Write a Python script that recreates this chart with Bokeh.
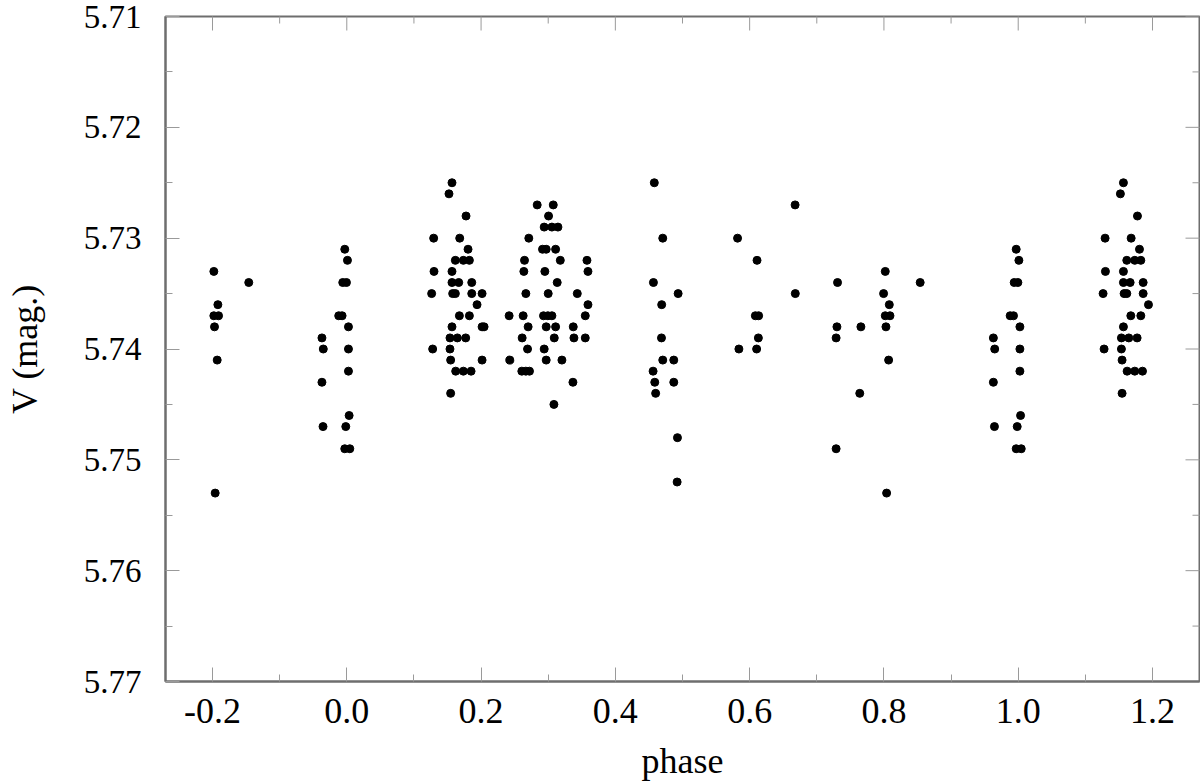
import numpy as np
from bokeh.plotting import figure
from bokeh.models import Range1d, FixedTicker, NumeralTickFormatter
from bokeh.embed import file_html
from bokeh.resources import INLINE

# ---- data: phase and V magnitude (base phases in [0,1)) ----
phase_c0 = [0.997, 0.001, 0.994, 0.9995, 0.988, 0.993, 0.0025, 0.963, 0.965, 0.0025,
            0.0025, 0.963, 0.0035, 0.9646, 0.9985, 0.997, 0.0045]
vmag_c0 = [5.731, 5.732, 5.734, 5.734, 5.737, 5.737, 5.738, 5.739, 5.740, 5.740,
           5.742, 5.743, 5.746, 5.747, 5.747, 5.749, 5.749]

phase_c1 = [0.1567, 0.1522, 0.1776, 0.1294, 0.1682, 0.1806, 0.1617, 0.1736, 0.1826, 0.1299,
            0.1567, 0.1567, 0.1667, 0.1861, 0.1264, 0.1577, 0.1617, 0.1861, 0.2015, 0.194,
            0.1677, 0.1826, 0.1567, 0.2015, 0.2045, 0.1537, 0.1647, 0.1771, 0.1279, 0.1537,
            0.1547, 0.2015, 0.1622, 0.1736, 0.1851, 0.1547]
vmag_c1 = [5.725, 5.726, 5.728, 5.730, 5.730, 5.731, 5.732, 5.732, 5.732, 5.733,
           5.733, 5.734, 5.734, 5.734, 5.735, 5.735, 5.735, 5.735, 5.735, 5.736,
           5.737, 5.737, 5.738, 5.738, 5.738, 5.739, 5.739, 5.739, 5.740, 5.740,
           5.741, 5.741, 5.742, 5.742, 5.742, 5.744]

phase_c2 = [0.2836, 0.3075, 0.3005, 0.294, 0.3055, 0.3145, 0.2711, 0.2915, 0.297, 0.311,
            0.2647, 0.318, 0.3577, 0.2637, 0.295, 0.3592, 0.3134, 0.2667, 0.300, 0.3433,
            0.3592, 0.2418, 0.2627, 0.293, 0.2995, 0.3055, 0.3552, 0.2701, 0.297, 0.311,
            0.3373, 0.2612, 0.309, 0.3383, 0.3552, 0.2692, 0.294, 0.2428, 0.297, 0.3204,
            0.2607, 0.2667, 0.2721, 0.3368, 0.3085]
vmag_c2 = [5.727, 5.727, 5.728, 5.729, 5.729, 5.729, 5.730, 5.731, 5.731, 5.731,
           5.732, 5.732, 5.732, 5.733, 5.733, 5.733, 5.734, 5.735, 5.735, 5.735,
           5.736, 5.737, 5.737, 5.737, 5.737, 5.737, 5.737, 5.738, 5.738, 5.738,
           5.738, 5.739, 5.739, 5.739, 5.739, 5.740, 5.740, 5.741, 5.741, 5.741,
           5.742, 5.742, 5.742, 5.743, 5.745]

phase_c3 = [0.458, 0.4706, 0.4567, 0.4935, 0.469, 0.4687, 0.4706, 0.487, 0.4562, 0.4587,
            0.487, 0.460, 0.4925, 0.492]
vmag_c3 = [5.725, 5.730, 5.734, 5.735, 5.736, 5.739, 5.741, 5.741, 5.742, 5.743,
           5.743, 5.744, 5.748, 5.752]

phase_c4 = [0.6677, 0.582, 0.611, 0.668, 0.6085, 0.6134, 0.613, 0.584, 0.6104]
vmag_c4 = [5.727, 5.730, 5.732, 5.735, 5.737, 5.737, 5.739, 5.740, 5.740]

phase_c5 = [0.7309, 0.730, 0.7657, 0.7288, 0.764, 0.7288]
vmag_c5 = [5.734, 5.738, 5.738, 5.739, 5.744, 5.749]

phase_c6 = [0.802, 0.7995, 0.808, 0.802, 0.809, 0.803, 0.807, 0.804, 0.854]
vmag_c6 = [5.733, 5.735, 5.736, 5.737, 5.737, 5.738, 5.741, 5.753, 5.734]

x_ticks = [-0.2, 0.0, 0.2, 0.4, 0.6, 0.8, 1.0, 1.2]
x_minor = [-0.1, 0.1, 0.3, 0.5, 0.7, 0.9, 1.1]
y_ticks = [5.71, 5.72, 5.73, 5.74, 5.75, 5.76, 5.77]
y_minor = [5.715, 5.725, 5.735, 5.745, 5.755, 5.765]

phase = np.array(phase_c0 + phase_c1 + phase_c2 + phase_c3 + phase_c4 + phase_c5 + phase_c6)
vmag = np.array(vmag_c0 + vmag_c1 + vmag_c2 + vmag_c3 + vmag_c4 + vmag_c5 + vmag_c6)

# phase folding: repeat points in the -0.2..0 and 1..1.2 intervals
lo = phase >= 0.8
hi = phase <= 0.2
x_all = np.concatenate([phase, phase[lo] - 1.0, phase[hi] + 1.0])
y_all = np.concatenate([vmag, vmag[lo], vmag[hi]])

FONT = "Liberation Serif"
FRAME = "#6e6e6e"
TICK = "#9a9a9a"

x_lo, x_hi = -0.27, 1.27
y_bottom, y_top = 5.77, 5.71

p = figure(frame_width=1034, frame_height=665,
           x_range=Range1d(x_lo, x_hi), y_range=Range1d(y_bottom, y_top),
           output_backend="svg", toolbar_location=None,
           min_border_left=165, min_border_right=1, min_border_top=16, min_border_bottom=10,
           background_fill_color="white", border_fill_color="white")
p.xgrid.visible = False
p.ygrid.visible = False
p.outline_line_color = FRAME
p.outline_line_width = 2
p.outline_line_alpha = 1.0

p.scatter(x_all, y_all, size=8, color="black", line_color="black")

# mirrored inward ticks on the top and right edges (dash markers clipped by the frame)
p.scatter(x_ticks, [y_top] * len(x_ticks), marker="dash", angle=np.pi / 2, size=28,
          line_color=TICK, line_width=1)
p.scatter(x_minor, [y_top] * len(x_minor), marker="dash", angle=np.pi / 2, size=14,
          line_color=TICK, line_width=1)
p.scatter([x_hi] * len(y_ticks), y_ticks, marker="dash", size=28,
          line_color=TICK, line_width=1)
p.scatter([x_hi] * len(y_minor), y_minor, marker="dash", size=14,
          line_color=TICK, line_width=1)

def style(ax, ticks, minor, font_size, fmt):
    ax.ticker = FixedTicker(ticks=ticks, minor_ticks=minor)
    ax.formatter = NumeralTickFormatter(format=fmt)
    ax.axis_line_color = FRAME
    ax.axis_line_width = 2
    ax.major_tick_in = 14
    ax.major_tick_out = 0
    ax.minor_tick_in = 7
    ax.minor_tick_out = 0
    ax.major_tick_line_color = TICK
    ax.minor_tick_line_color = TICK
    ax.major_tick_line_width = 1
    ax.minor_tick_line_width = 1
    ax.major_label_text_font = FONT
    ax.major_label_text_color = "black"
    ax.major_label_text_font_size = font_size
    ax.major_label_text_line_height = 1.0
    ax.axis_label_text_font = FONT
    ax.axis_label_text_font_style = "normal"
    ax.axis_label_text_font_size = "36px"
    ax.axis_label_text_line_height = 1.0
    ax.axis_label_text_color = "black"

xb = p.xaxis[0]
style(xb, x_ticks, x_minor, "36px", "0.0")
xb.axis_label = "phase"
xb.major_label_standoff = 17
xb.axis_label_standoff = 15

yl = p.yaxis[0]
style(yl, y_ticks, y_minor, "33px", "0.00")
yl.axis_label = "V (mag.)"
yl.major_label_standoff = 24
yl.axis_label_standoff = 36

open("out.html", "w").write(file_html(p, INLINE))
